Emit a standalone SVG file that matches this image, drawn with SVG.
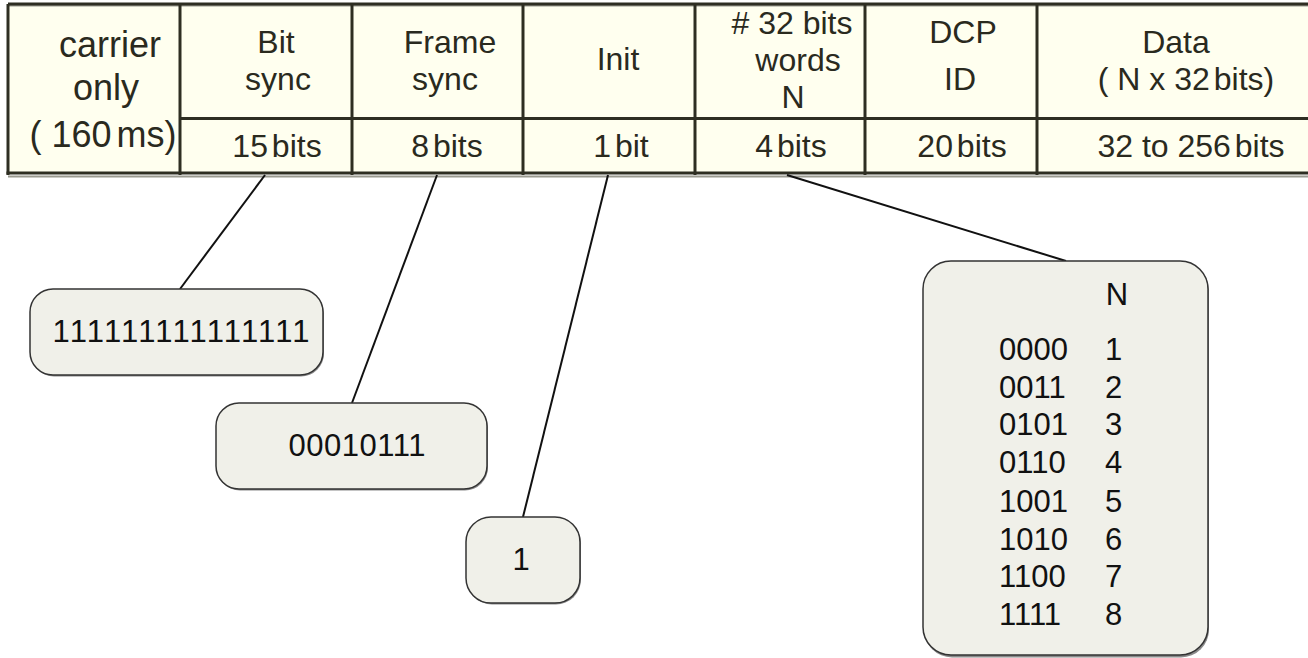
<svg xmlns="http://www.w3.org/2000/svg" width="1308" height="658" viewBox="0 0 1308 658">
<style>
.cell{fill:#FFFFEF;stroke:none}
.grid{stroke:#2E2E22;stroke-width:3;fill:none}
.th{font-family:"Liberation Sans",Arial,sans-serif;font-size:32px;fill:#2A2A1E;text-anchor:middle}
.big{font-size:36px}
.ns{word-spacing:-5px}
.box{fill:#F0F0E9;stroke:#333333;stroke-width:1.5}
.shadow{fill:#8A8A8A;stroke:none}
.bt{font-family:"Liberation Sans",Arial,sans-serif;font-size:31px;fill:#111111}
.conn{stroke:#111111;stroke-width:2;fill:none}
</style>
<rect width="1308" height="658" fill="#FFFFFF"/>
<g id="table">
  <rect class="cell" x="8" y="4" width="1300" height="170"/>
  <line x1="8" y1="5.5" x2="1308" y2="5.5" stroke="#9A9A90" stroke-width="2"/>
  <line class="grid" x1="8" y1="4" x2="1308" y2="4"/>
  <line x1="8" y1="176.5" x2="1308" y2="176.5" stroke="#9A9A90" stroke-width="2"/>
  <line class="grid" x1="6.5" y1="173" x2="1308" y2="173" stroke-width="4"/>
  <line class="grid" x1="8" y1="4" x2="8" y2="175"/>
  <line class="grid" x1="180" y1="4" x2="180" y2="175"/>
  <line class="grid" x1="352" y1="4" x2="352" y2="175"/>
  <line class="grid" x1="523" y1="4" x2="523" y2="175"/>
  <line class="grid" x1="695" y1="4" x2="695" y2="175"/>
  <line class="grid" x1="865" y1="4" x2="865" y2="175"/>
  <line class="grid" x1="1037" y1="4" x2="1037" y2="175"/>
  <line class="grid" x1="180" y1="118.5" x2="1308" y2="118.5"/>
</g>
<g id="carrier">
  <text class="th big" x="110" y="57">carrier</text>
  <text class="th big" x="106" y="100">only</text>
  <text class="th big" x="103" y="147">( 160<tspan class="ns"> ms)</tspan></text>
</g>
<g id="bitsync">
  <text class="th" x="276" y="53">Bit</text>
  <text class="th" x="278" y="90">sync</text>
  <text class="th ns" x="277" y="157">15 bits</text>
</g>
<g id="framesync">
  <text class="th" x="450" y="53">Frame</text>
  <text class="th" x="445" y="90">sync</text>
  <text class="th ns" x="447" y="157">8 bits</text>
</g>
<g id="init">
  <text class="th" x="618" y="70">Init</text>
  <text class="th ns" x="621" y="157">1 bit</text>
</g>
<g id="words">
  <text class="th" x="792" y="34">#&#160;32 bits</text>
  <text class="th" x="798" y="71">words</text>
  <text class="th" x="793" y="108">N</text>
  <text class="th ns" x="791" y="157">4 bits</text>
</g>
<g id="dcp">
  <text class="th" x="963" y="43">DCP</text>
  <text class="th" x="960" y="90">ID</text>
  <text class="th ns" x="962" y="157">20 bits</text>
</g>
<g id="data">
  <text class="th" x="1176" y="53">Data</text>
  <text class="th" x="1186" y="90">( N x 32<tspan class="ns"> bits)</tspan></text>
  <text class="th" x="1191" y="157">32 to 256<tspan class="ns"> bits</tspan></text>
</g>
<g id="connectors">
  <line class="conn" x1="265" y1="175" x2="180" y2="289"/>
  <line class="conn" x1="437" y1="175" x2="352" y2="403"/>
  <line class="conn" x1="608" y1="175" x2="523" y2="517"/>
  <line class="conn" x1="787" y1="175" x2="1066" y2="261"/>
</g>
<g id="bitsync-value">
  <rect class="shadow" x="31" y="290.5" width="293" height="86" rx="23"/>
  <rect class="box" x="30" y="289" width="293" height="86" rx="23"/>
  <text class="bt" x="181" y="342" text-anchor="middle" textLength="257">111111111111111</text>
</g>
<g id="framesync-value">
  <rect class="shadow" x="217" y="404.5" width="271" height="86" rx="23"/>
  <rect class="box" x="216" y="403" width="271" height="86" rx="23"/>
  <text class="bt" x="357" y="456" text-anchor="middle" textLength="137">00010111</text>
</g>
<g id="init-value">
  <rect class="shadow" x="467" y="518.5" width="114" height="86" rx="25"/>
  <rect class="box" x="466" y="517" width="114" height="86" rx="25"/>
  <text class="bt" x="521" y="570" text-anchor="middle">1</text>
</g>
<g id="n-table">
  <rect class="shadow" x="924" y="262.5" width="285" height="395" rx="28"/>
  <rect class="box" x="923" y="261" width="285" height="394" rx="28"/>
  <text class="bt" x="1117" y="305" text-anchor="middle">N</text>
  <text class="bt" x="999" y="360">0000</text><text class="bt" x="1105" y="360">1</text>
  <text class="bt" x="999" y="398">0011</text><text class="bt" x="1105" y="398">2</text>
  <text class="bt" x="999" y="435">0101</text><text class="bt" x="1105" y="435">3</text>
  <text class="bt" x="999" y="473">0110</text><text class="bt" x="1105" y="473">4</text>
  <text class="bt" x="999" y="512">1001</text><text class="bt" x="1105" y="512">5</text>
  <text class="bt" x="999" y="550">1010</text><text class="bt" x="1105" y="550">6</text>
  <text class="bt" x="999" y="587">1100</text><text class="bt" x="1105" y="587">7</text>
  <text class="bt" x="999" y="625">1111</text><text class="bt" x="1105" y="625">8</text>
</g>
</svg>
